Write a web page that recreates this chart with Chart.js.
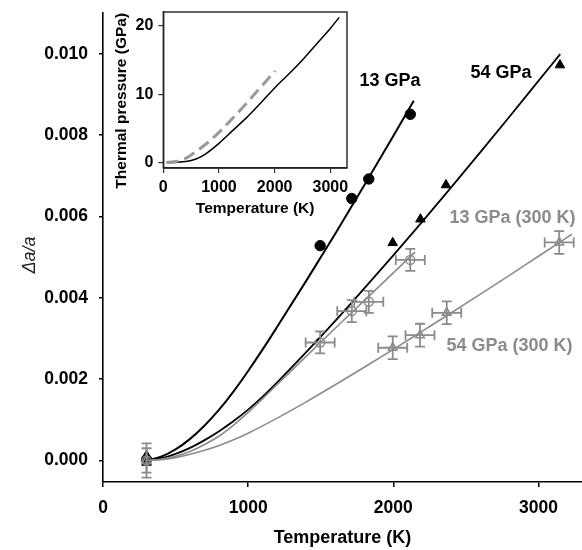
<!DOCTYPE html>
<html><head><meta charset="utf-8">
<script src="https://cdn.jsdelivr.net/npm/chart.js@4.4.0/dist/chart.umd.min.js"></script>
<style>
html,body{margin:0;padding:0;background:#fff;}
#wrap{position:relative;width:582px;height:550px;overflow:hidden;}
#main{position:absolute;left:0;top:0;}
#inset{position:absolute;left:100px;top:0;}
</style></head><body>
<div id="wrap"><canvas id="main" width="582" height="550"></canvas><canvas id="inset" width="260" height="225"></canvas></div>
<script>
// ---------- main chart data ----------
const xTicks = [0, 1000, 2000, 3000];
const xTickLabels = ['0', '1000', '2000', '3000'];
const yTicks = [0, 0.002, 0.004, 0.006, 0.008, 0.010];
const yTickLabels = ['0.000', '0.002', '0.004', '0.006', '0.008', '0.010'];

// measured at temperature (black markers)
const hot13T = [300, 1496, 1714, 1831, 2117];
const hot13V = [0.00002, 0.00528, 0.00644, 0.00692, 0.00851];
const hot54T = [300, 300, 1996, 2187, 2363, 3148];
const hot54V = [0.00012, -0.00005, 0.00535, 0.00593, 0.00677, 0.00972];

// quenched to 300 K (grey markers with error bars)
const cold13T = [300, 1496, 1714, 1831, 2117];
const cold13V = [0, 0.00290, 0.00367, 0.00390, 0.00493];
const cold13TErr = [0, 100, 100, 100, 100];
const cold13VErr = [0.00042, 0.00027, 0.00027, 0.00027, 0.00027];
const cold54T = [300, 1996, 2184, 2368, 3143];
const cold54V = [0, 0.00277, 0.00308, 0.00363, 0.00536];
const cold54TErr = [0, 100, 100, 100, 100];
const cold54VErr = [0.0003, 0.00028, 0.00028, 0.00028, 0.00028];

// fitted curves
const fit13T = [300, 400, 500, 600, 700, 800, 900, 1000, 1100, 1200, 1400, 1600, 1800, 2000, 2141];
const fit13V = [0, 0.00009, 0.00027, 0.00053, 0.00086, 0.00125, 0.00170, 0.00220, 0.00273, 0.003285, 0.004415, 0.005575, 0.006765, 0.007975, 0.008845];
const fit54T = [300, 400, 500, 600, 700, 800, 900, 1000, 1100, 1200, 1400, 1600, 1800, 2000, 2200, 2400, 2600, 2800, 3000, 3150];
const fit54V = [0, 0.00005, 0.00016, 0.00031, 0.00050, 0.00072, 0.00097, 0.00125, 0.00157, 0.00192, 0.00266, 0.00343, 0.00423, 0.00504, 0.00587, 0.00672, 0.00758, 0.00845, 0.00933, 0.00999];
const fitC13T = [300, 400, 500, 600, 700, 800, 900, 1000, 1100, 1200, 1400, 1600, 1800, 2000, 2150];
const fitC13V = [0, 0.00003, 0.00010, 0.00022, 0.00039, 0.00060, 0.00087, 0.00118, 0.00152, 0.00187, 0.00256, 0.00325, 0.00393, 0.00461, 0.00512];
const fitC54T = [300, 400, 500, 600, 700, 800, 900, 1000, 1200, 1400, 1600, 1800, 2000, 2200, 2400, 2600, 2800, 3000, 3230];
const fitC54V = [0, 0.00002, 0.00007, 0.00015, 0.00025, 0.00037, 0.00051, 0.00067, 0.00104, 0.00144, 0.00186, 0.00229, 0.00273, 0.00318, 0.00363, 0.00409, 0.00455, 0.00502, 0.00556];

// curve labels
const noteText = ['13 GPa', '54 GPa', '13 GPa (300 K)', '54 GPa (300 K)'];
const noteT = [1977, 2742, 2821, 2800];
const noteV = [0.00933, 0.00952, 0.00596, 0.00281];

// ---------- inset data ----------
const inXTicks = [0, 1000, 2000, 3000];
const inXTickLabels = ['0', '1000', '2000', '3000'];
const inYTicks = [0, 10, 20];
const inYTickLabels = ['0', '10', '20'];
const inSolidT = [60, 200, 300, 400, 500, 600, 750, 1000, 1250, 1500, 1750, 2000, 2250, 2500, 2750, 3000, 3160];
const inSolidP = [0, 0.02, 0.06, 0.15, 0.30, 0.55, 1.2, 2.8, 4.7, 6.6, 8.7, 10.9, 12.9, 15.0, 17.3, 19.6, 21.2];
const inDashT = [60, 200, 300, 400, 500, 750, 1000, 1250, 1500, 1750, 2010];
const inDashP = [0, 0.1, 0.3, 0.6, 1.1, 2.6, 4.4, 6.5, 8.7, 11.0, 13.4];

// ---------- helpers ----------
const FONT = "'Liberation Sans', Arial, Helvetica, sans-serif";
const GRAY = '#8b8b8b';
const pts = (xs, ys) => xs.map((x, i) => ({x: x, y: ys[i]}));

const errorBarPlugin = {
  id: 'errbars',
  afterDatasetsDraw(chart) {
    const {ctx, scales: {x, y}} = chart;
    ctx.save();
    chart.data.datasets.forEach(ds => {
      if (!ds.errT) return;
      ctx.strokeStyle = ds.errColor; ctx.lineWidth = 1.8;
      ds.data.forEach((p, i) => {
        const px = x.getPixelForValue(p.x), py = y.getPixelForValue(p.y);
        const dy = ds.errV[i], dx = ds.errT[i], cap = 5;
        ctx.beginPath();
        if (dy) {
          const y1 = y.getPixelForValue(p.y - dy), y2 = y.getPixelForValue(p.y + dy);
          ctx.moveTo(px, y1); ctx.lineTo(px, y2);
          ctx.moveTo(px - cap, y1); ctx.lineTo(px + cap, y1);
          ctx.moveTo(px - cap, y2); ctx.lineTo(px + cap, y2);
        }
        if (dx) {
          const x1 = x.getPixelForValue(p.x - dx), x2 = x.getPixelForValue(p.x + dx);
          ctx.moveTo(x1, py); ctx.lineTo(x2, py);
          ctx.moveTo(x1, py - cap); ctx.lineTo(x1, py + cap);
          ctx.moveTo(x2, py - cap); ctx.lineTo(x2, py + cap);
        }
        ctx.stroke();
      });
    });
    ctx.restore();
  }
};

const notePlugin = {
  id: 'notes',
  afterDraw(chart) {
    const {ctx, scales: {x, y}} = chart;
    const colors = ['#000', '#000', GRAY, GRAY];
    ctx.save();
    ctx.font = 'bold 18px ' + FONT;
    ctx.textAlign = 'center'; ctx.textBaseline = 'middle';
    noteText.forEach((t, i) => {
      ctx.fillStyle = colors[i];
      ctx.fillText(t, x.getPixelForValue(noteT[i]), y.getPixelForValue(noteV[i]));
    });
    ctx.restore();
  }
};

const boxPlugin = {
  id: 'box',
  afterDraw(chart) {
    const {ctx, chartArea: a} = chart;
    ctx.save();
    ctx.strokeStyle = '#222'; ctx.lineWidth = 1.4;
    ctx.strokeRect(a.left, a.top, a.right - a.left, a.bottom - a.top);
    ctx.restore();
  }
};

const noPad = s => { s.paddingLeft = 0; s.paddingRight = 0; s.paddingTop = 0; s.paddingBottom = 0; };

const lineDs = (xs, ys, color, w) => ({
  data: pts(xs, ys), showLine: true, borderColor: color, borderWidth: w,
  pointRadius: 0, tension: 0.4, cubicInterpolationMode: 'monotone', fill: false
});

// ---------- main chart ----------
new Chart(document.getElementById('main'), {
  type: 'scatter',
  data: {
    datasets: [
      lineDs(fitC54T, fitC54V, GRAY, 1.6),
      lineDs(fitC13T, fitC13V, GRAY, 1.6),
      lineDs(fit54T, fit54V, '#000', 1.8),
      lineDs(fit13T, fit13V, '#000', 2),
      {data: pts(cold54T, cold54V), errT: cold54TErr, errV: cold54VErr, errColor: GRAY,
       pointStyle: 'triangle', pointRadius: 5, borderColor: GRAY, borderWidth: 1.5, backgroundColor: 'rgba(0,0,0,0)'},
      {data: pts(cold13T, cold13V), errT: cold13TErr, errV: cold13VErr, errColor: GRAY,
       pointStyle: 'circle', pointRadius: 4.5, borderColor: GRAY, borderWidth: 1.5, backgroundColor: 'rgba(0,0,0,0)'},
      {data: pts(hot54T, hot54V), pointStyle: 'triangle', pointRadius: 5.5, borderColor: '#000', borderWidth: 1, backgroundColor: '#000'},
      {data: pts(hot13T, hot13V), pointStyle: 'circle', pointRadius: 5.2, borderColor: '#000', borderWidth: 1, backgroundColor: '#000'}
    ]
  },
  options: {
    responsive: false, animation: false, devicePixelRatio: 1,
    layout: {autoPadding: false, padding: {top: 13, right: 0, left: 0, bottom: 0}},
    plugins: {legend: {display: false}, tooltip: {enabled: false}},
    scales: {
      x: {
        type: 'linear', min: 0, max: 3300,
        afterBuildTicks: s => { s.ticks = xTicks.map(v => ({value: v})); },
        afterFit: s => { s.height = 68; noPad(s); },
        ticks: {callback: (v, i) => xTickLabels[i], font: {family: FONT, size: 17.5, weight: 'bold'}, color: '#000', padding: 11, maxRotation: 0, autoSkip: false},
        grid: {drawOnChartArea: false, drawTicks: true, tickLength: 5, color: '#000', lineWidth: 1.5},
        border: {display: true, color: '#000', width: 1.6},
        title: {display: true, text: 'Temperature (K)', font: {family: FONT, size: 18, weight: 'bold'}, color: '#000', padding: {top: 0, bottom: 1}}
      },
      y: {
        type: 'linear', min: -0.00053, max: 0.011,
        afterBuildTicks: s => { s.ticks = yTicks.map(v => ({value: v})); },
        afterFit: s => { s.width = 103; noPad(s); },
        ticks: {callback: (v, i) => yTickLabels[i], font: {family: FONT, size: 17.5, weight: 'bold'}, color: '#000', padding: 11, autoSkip: false},
        grid: {drawOnChartArea: false, drawTicks: true, tickLength: 4, color: '#000', lineWidth: 1.5},
        border: {display: true, color: '#000', width: 1.6},
        title: {display: true, text: 'Δa/a   ', font: {family: FONT, size: 18, style: 'italic'}, color: '#222', padding: {top: 19, bottom: 0}}
      }
    }
  },
  plugins: [errorBarPlugin, notePlugin]
});

// ---------- inset chart ----------
new Chart(document.getElementById('inset'), {
  type: 'scatter',
  data: {
    datasets: [
      Object.assign(lineDs(inDashT, inDashP, '#9a9a9a', 3), {borderDash: [12, 6]}),
      lineDs(inSolidT, inSolidP, '#000', 1.5)
    ]
  },
  options: {
    responsive: false, animation: false, devicePixelRatio: 1,
    layout: {autoPadding: false, padding: {top: 12, right: 13, left: 0, bottom: 0}},
    plugins: {legend: {display: false}, tooltip: {enabled: false}},
    scales: {
      x: {
        type: 'linear', min: 0, max: 3300,
        afterBuildTicks: s => { s.ticks = inXTicks.map(v => ({value: v})); },
        afterFit: s => { s.height = 57; noPad(s); },
        ticks: {callback: (v, i) => inXTickLabels[i], font: {family: FONT, size: 16, weight: 'bold'}, color: '#000', padding: 5, maxRotation: 0, autoSkip: false},
        grid: {drawOnChartArea: false, drawTicks: true, tickLength: 5, color: '#333', lineWidth: 1.2},
        border: {display: true, color: '#222', width: 1.4},
        title: {display: true, text: 'Temperature (K)', font: {family: FONT, size: 15.5, weight: 'bold'}, color: '#000', padding: {top: 0, bottom: 6.5}}
      },
      y: {
        type: 'linear', min: -0.8, max: 22,
        afterBuildTicks: s => { s.ticks = inYTicks.map(v => ({value: v})); },
        afterFit: s => { s.width = 63.3; noPad(s); },
        ticks: {callback: (v, i) => inYTickLabels[i], font: {family: FONT, size: 16, weight: 'bold'}, color: '#000', padding: 5, autoSkip: false},
        grid: {drawOnChartArea: false, drawTicks: true, tickLength: 5, color: '#333', lineWidth: 1.2},
        border: {display: true, color: '#222', width: 1.4},
        title: {display: true, text: 'Thermal pressure (GPa)     ', font: {family: FONT, size: 15.5, weight: 'bold'}, color: '#000', padding: {top: 12.4, bottom: 0}}
      }
    }
  },
  plugins: [boxPlugin]
});
</script>
</body></html>
